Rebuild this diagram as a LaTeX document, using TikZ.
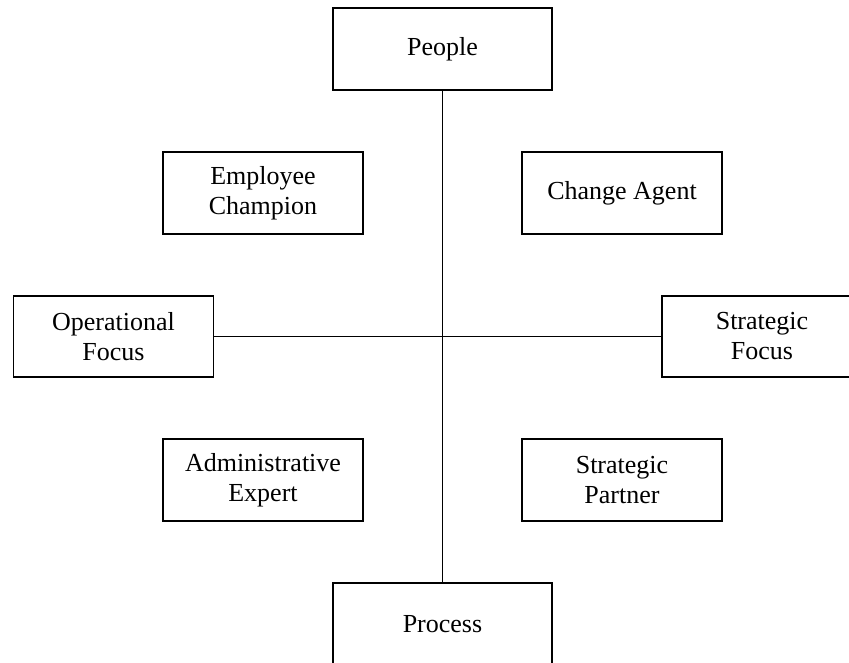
\documentclass[tikz,border=0pt]{standalone}
\usepackage{fontspec}
\setmainfont{Liberation Serif}
\usepackage{tikz}
\usetikzlibrary{positioning}

\begin{document}
\begin{tikzpicture}[
  x=1pt,
  y=-1pt,
  role/.style={
    rectangle,
    draw=black,
    line width=1.2pt,
    fill=white,
    align=center,
    inner sep=0pt,
    minimum width=200pt,
    minimum height=82pt,
    font=\fontsize{26}{30}\selectfont
  },
  pole/.style={role, minimum width=219pt},
  link/.style={line width=1.2pt}
]
\useasboundingbox (0,0) rectangle (849,663);
\clip (0,0) rectangle (849,663);

% Vertical axis: people to process
\node[pole] (people) at (442.5,49) {People};
\node[pole] (process) at (442.5,624) {Process};

% Horizontal axis: operational to strategic
\node[role, minimum height=81pt] (opfocus) at (113.5,336.5) {Operational\\Focus};
\node[role, minimum height=81pt] (stratfocus) at (762,336.5) {Strategic\\Focus};

% The four roles
\node[role] (champion) at (263,193) {Employee\\Champion};
\node[role] (agent) at (622,193) {Change Agent};
\node[role] (admin) at (263,480) {Administrative\\Expert};
\node[role] (partner) at (622,480) {Strategic\\Partner};

\draw[link] (people) -- (process);
\draw[link] (opfocus) -- (stratfocus);
\end{tikzpicture}
\end{document}
